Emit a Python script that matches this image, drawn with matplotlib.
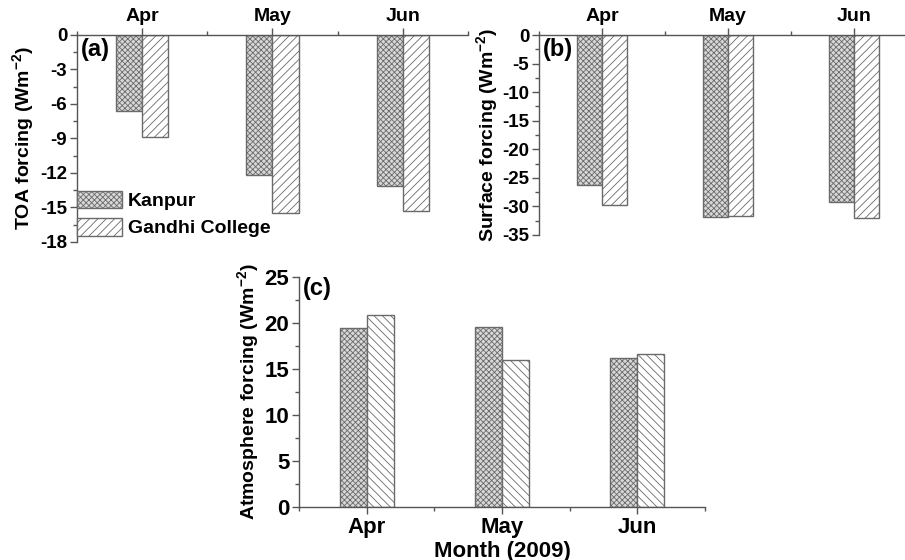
import numpy as np
import matplotlib
matplotlib.use("Agg")
import matplotlib.pyplot as plt
from matplotlib.ticker import MultipleLocator
from matplotlib.patches import Patch

# --------------------------------------------
# Data
# --------------------------------------------
months = ["Apr", "May", "Jun"]
toa_kanpur = [-6.6, -12.2, -13.1]
toa_gandhi = [-8.9, -15.5, -15.3]
surf_kanpur = [-26.2, -31.9, -29.3]
surf_gandhi = [-29.8, -31.6, -32.1]
atm_kanpur = [19.5, 19.6, 16.2]
atm_gandhi = [20.9, 16.0, 16.6]

# --------------------------------------------
# Style
# --------------------------------------------
plt.rcParams["font.family"] = ["Liberation Sans", "DejaVu Sans"]
plt.rcParams["font.weight"] = "bold"
plt.rcParams["font.size"] = 14
plt.rcParams["axes.unicode_minus"] = False
plt.rcParams["mathtext.fontset"] = "custom"
plt.rcParams["mathtext.rm"] = "Liberation Sans:bold"
plt.rcParams["mathtext.bf"] = "Liberation Sans:bold"
plt.rcParams["hatch.linewidth"] = 0.6
plt.rcParams["hatch.color"] = "#a4a4a4"

edge = "#6a6a6a"
kan_face = "#d8d8d8"
kan_hatch = "xxxxxx"
width = 0.2
x = np.arange(1, len(months) + 1)


def draw(ax, kan, gan, gan_hatch, top_axis, xsize, ysize):
    ax.bar(x - width / 2, kan, width, color=kan_face, hatch=kan_hatch,
           edgecolor=edge, linewidth=1.0)
    ax.bar(x + width / 2, gan, width, color="white", hatch=gan_hatch,
           edgecolor=edge, linewidth=1.0)
    ax.set_xlim(0.5, 3.5)
    ax.set_xticks(x)
    ax.set_xticklabels(months, fontweight="bold")
    ax.xaxis.set_minor_locator(MultipleLocator(0.5))
    ax.spines["right"].set_visible(False)
    if top_axis:
        ax.spines["bottom"].set_visible(False)
        ax.xaxis.tick_top()
        ax.tick_params(axis="x", which="both", top=True, bottom=False)
    else:
        ax.spines["top"].set_visible(False)
    ax.tick_params(which="major", direction="out", length=5, width=1, pad=2)
    ax.tick_params(axis="x", labelsize=xsize)
    ax.tick_params(axis="y", labelsize=ysize)
    ax.tick_params(which="minor", direction="out", length=3, width=1)
    for sp in ax.spines.values():
        sp.set_linewidth(1.0)
        sp.set_color("#555555")
    ax.tick_params(which="both", color="#555555")


fig = plt.figure(figsize=(9.05, 5.6), dpi=100)

# --------------------------------------------
# (a) TOA forcing
# --------------------------------------------
ax1 = fig.add_axes([0.0851, 0.568, 0.432, 0.3696])
draw(ax1, toa_kanpur, toa_gandhi, "////", True, 14, 13.5)
ax1.set_ylim(-18, 0)
ax1.yaxis.set_major_locator(MultipleLocator(3))
ax1.yaxis.set_minor_locator(MultipleLocator(1.5))
ax1.set_ylabel(r"TOA forcing (Wm$^{-2}$)", fontweight="bold", labelpad=2)
ax1.text(0.01, 0.985, "(a)", transform=ax1.transAxes, fontsize=17,
         fontweight="bold", va="top", ha="left")
handles = [Patch(facecolor=kan_face, hatch=kan_hatch, edgecolor=edge, label="Kanpur"),
           Patch(facecolor="white", hatch="////", edgecolor=edge, label="Gandhi College")]
ax1.legend(handles=handles, loc="lower left", bbox_to_anchor=(-0.005, 0.012),
           frameon=False, handlelength=2.3, handleheight=1.0, handletextpad=0.3,
           labelspacing=0.4, borderpad=0.1, borderaxespad=0,
           prop={"weight": "bold", "size": 14})

# --------------------------------------------
# (b) Surface forcing
# --------------------------------------------
ax2 = fig.add_axes([0.5956, 0.5804, 0.4177, 0.357])
draw(ax2, surf_kanpur, surf_gandhi, "////", True, 14, 13.5)
ax2.set_ylim(-35, 0)
ax2.yaxis.set_major_locator(MultipleLocator(5))
ax2.yaxis.set_minor_locator(MultipleLocator(2.5))
ax2.set_ylabel(r"Surface forcing (Wm$^{-2}$)", fontweight="bold", labelpad=1)
ax2.text(0.01, 0.985, "(b)", transform=ax2.transAxes, fontsize=17,
         fontweight="bold", va="top", ha="left")

# --------------------------------------------
# (c) Atmosphere forcing
# --------------------------------------------
ax3 = fig.add_axes([0.3304, 0.0946, 0.4486, 0.4107])
draw(ax3, atm_kanpur, atm_gandhi, "\\\\\\\\", False, 16, 16)
ax3.set_ylim(0, 25)
ax3.yaxis.set_major_locator(MultipleLocator(5))
ax3.yaxis.set_minor_locator(MultipleLocator(2.5))
ax3.set_ylabel(r"Atmosphere forcing (Wm$^{-2}$)", fontweight="bold",
               fontsize=14, labelpad=2)
ax3.set_xlabel("Month (2009)", fontweight="bold", fontsize=16, labelpad=2)
ax3.text(0.01, 1.0, "(c)", transform=ax3.transAxes, fontsize=17,
         fontweight="bold", va="top", ha="left")

for ax in (ax1, ax2, ax3):
    for lab in ax.get_yticklabels():
        lab.set_fontweight("bold")

fig.savefig("out.png", dpi=100)
